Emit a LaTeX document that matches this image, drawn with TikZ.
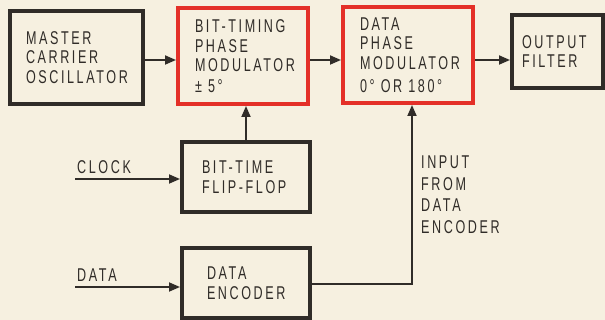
\documentclass[tikz,border=0pt]{standalone}
\usepackage{fontspec}
\setmainfont{Liberation Sans}[FakeStretch=0.68, LetterSpace=14]
\usepackage{xcolor}
\usepackage{tikz}
\usetikzlibrary{arrows.meta, positioning}
\definecolor{paper}{RGB}{246, 240, 224}
\definecolor{inkgray}{RGB}{48, 44, 40}
\definecolor{modred}{RGB}{228, 48, 40}

\tikzset{
  blockbox/.style={rectangle, draw=inkgray, line width=4pt, fill=paper,
        align=left, font=\fontsize{18.5}{19.5}\selectfont, text=inkgray,
        inner sep=0pt},
  redbox/.style={blockbox, draw=modred},
  wire/.style={draw=inkgray, line width=1.8pt,
        -{Triangle[length=11pt, width=9pt]}},
  sigtext/.style={font=\fontsize{18.5}{21.5}\selectfont, text=inkgray,
        align=left, inner sep=0pt}
}

\begin{document}
\begin{tikzpicture}[x=1pt, y=-1pt]
      \fill[paper] (0,0) rectangle (605,320);
      \useasboundingbox (0,0) rectangle (605,320);

      % top row
      \node[blockbox, minimum width=133pt, minimum height=93pt,
            text width=101pt] (osc) at (76.5,57.5)
            {MASTER\\CARRIER\\OSCILLATOR};
      \node[redbox, minimum width=130pt, minimum height=96pt,
            text width=96pt] (btpm) at (243,56)
            {BIT-TIMING\\PHASE\\MODULATOR\\[1pt]±\,\,5°};
      \node[redbox, minimum width=130pt, minimum height=96pt,
            text width=96pt] (dpm) at (408,55)
            {DATA\\PHASE\\MODULATOR\\[4pt]0°\,\,OR\,\,180°};
      \node[blockbox, minimum width=91pt, minimum height=73pt,
            text width=71pt] (filt) at (557.5,51.5)
            {OUTPUT\\FILTER};

      % lower blocks
      \node[blockbox, minimum width=128pt, minimum height=70pt,
            text width=88pt] (ff) at (246,177)
            {BIT-TIME\\FLIP-FLOP};
      \node[blockbox, minimum width=128pt, minimum height=70pt,
            text width=78pt] (enc) at (246,283)
            {DATA\\ENCODER};

      % signal labels
      \node[sigtext, anchor=west] (clklbl) at (77,167) {CLOCK};
      \node[sigtext, anchor=west] (datlbl) at (77,275) {DATA};
      \node[sigtext, anchor=north west] (inlbl) at (421,156)
            {INPUT\\FROM\\DATA\\ENCODER};

      \coordinate (row) at (0,60);
      \coordinate (clk) at (75,179);
      \coordinate (dat) at (75,287);
      \coordinate (tap) at (412,284);

      % connectors
      \draw[wire] (row -| osc.east) -- (row -| btpm.west);
      \draw[wire] (row -| btpm.east) -- (row -| dpm.west);
      \draw[wire] (row -| dpm.east) -- (row -| filt.west);
      \draw[wire] (ff.north) -- (ff.north |- btpm.south);
      \draw[wire] (clk) -- (clk -| ff.west);
      \draw[wire] (dat) -- (dat -| enc.west);
      \draw[wire] (tap -| enc.east) -- (tap) -- (tap |- dpm.south);
\end{tikzpicture}
\end{document}
